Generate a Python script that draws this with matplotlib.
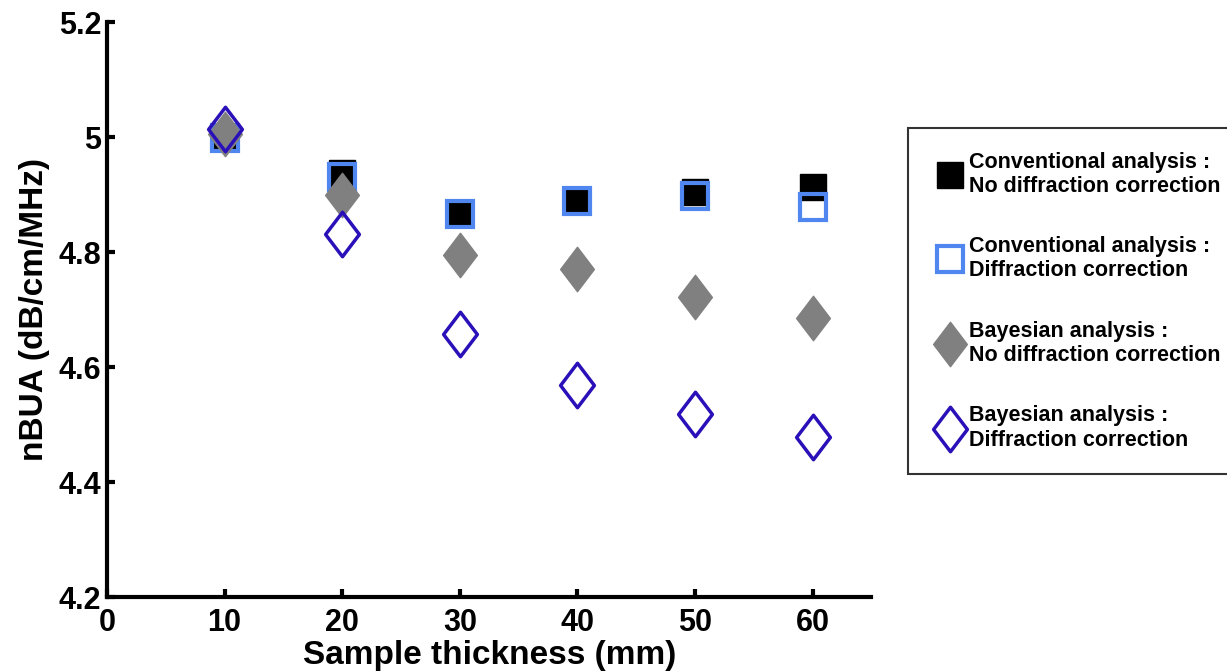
import matplotlib
matplotlib.use("Agg")
import matplotlib.pyplot as plt
import numpy as np
from matplotlib.path import Path
from matplotlib.ticker import FuncFormatter

thickness = [10, 20, 30, 40, 50, 60]
conv_no_diff = [4.998, 4.937, 4.866, 4.889, 4.905, 4.913]
conv_diff = [4.998, 4.931, 4.866, 4.888, 4.898, 4.879]
bayes_no_diff = [5.006, 4.899, 4.795, 4.771, 4.721, 4.685]
bayes_diff = [5.014, 4.832, 4.657, 4.568, 4.518, 4.479]

labels = [
  "Conventional analysis :\nNo diffraction correction",
  "Conventional analysis :\nDiffraction correction",
  "Bayesian analysis :\nNo diffraction correction",
  "Bayesian analysis :\nDiffraction correction",
]

plt.rcParams['font.family'] = ['Liberation Sans', 'DejaVu Sans']
plt.rcParams['font.weight'] = 'bold'

# diamond a bit taller than wide, like the original
diamond = Path([(0, 1), (0.76, 0), (0, -1), (-0.76, 0), (0, 1)],
               [Path.MOVETO, Path.LINETO, Path.LINETO, Path.LINETO, Path.CLOSEPOLY])

fig = plt.figure(figsize=(12.27, 6.72), dpi=100)
ax = fig.add_axes([0.0872, 0.1116, 0.623, 0.8556])

ax.plot(thickness, conv_no_diff, linestyle='none', marker='s', ms=19,
        mfc='black', mec='black', mew=1, label=labels[0])
ax.plot(thickness, conv_diff, linestyle='none', marker='s', ms=19,
        mfc='none', mec='#4f86f0', mew=3, label=labels[1])
ax.plot(thickness, bayes_no_diff, linestyle='none', marker=diamond, ms=32,
        mfc='#808080', mec='#808080', mew=1, label=labels[2])
ax.plot(thickness, bayes_diff, linestyle='none', marker=diamond, ms=32,
        mfc='none', mec='#2a10b8', mew=2.5, label=labels[3])

ax.set_xlim(0, 65)
ax.set_ylim(4.2, 5.2)
ax.set_xticks([0, 10, 20, 30, 40, 50, 60])
ax.set_yticks(np.arange(4.2, 5.21, 0.2))
ax.yaxis.set_major_formatter(FuncFormatter(lambda v, p: f"{v:g}"))

for side in ['top', 'right']:
  ax.spines[side].set_visible(False)
for side in ['left', 'bottom']:
  ax.spines[side].set_linewidth(3)
ax.tick_params(direction='in', length=6, width=3, labelsize=22)
ax.tick_params(axis='x', pad=8)
ax.tick_params(axis='y', pad=4)
for lab in ax.get_xticklabels() + ax.get_yticklabels():
  lab.set_fontweight('bold')

ax.set_xlabel("Sample thickness (mm)", fontsize=24, fontweight='bold', labelpad=1)
ax.set_ylabel("nBUA (dB/cm/MHz)", fontsize=24, fontweight='bold', labelpad=6)

leg = fig.legend(loc='upper left', bbox_to_anchor=(0.74, 0.8095), borderaxespad=0,
                 frameon=True, fancybox=False, edgecolor='black', labelspacing=1.83,
                 handletextpad=0.05, borderpad=1.1, handlelength=1.7,
                 markerscale=1.0, prop={'weight': 'bold', 'size': 15.5})
leg.get_frame().set_linewidth(1.5)

fig.savefig("out.png", dpi=100)
